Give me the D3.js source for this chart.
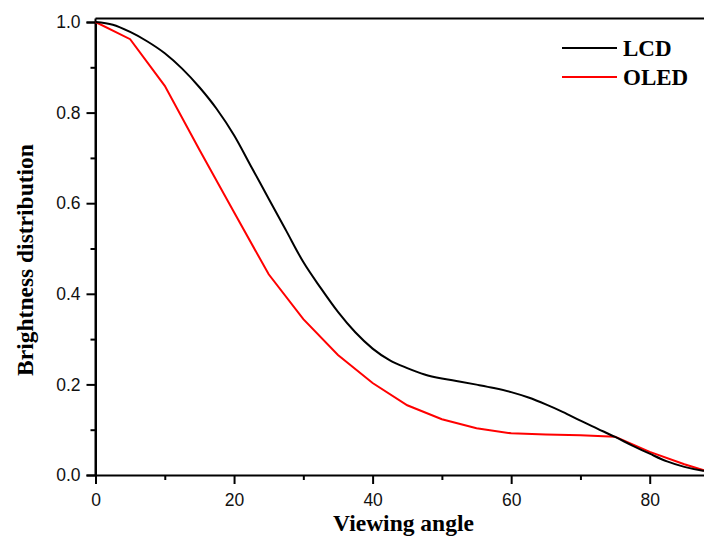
<!DOCTYPE html>
<html>
<head>
<meta charset="utf-8">
<script src="https://cdn.jsdelivr.net/npm/d3@7"></script>
<style>
  body { margin: 0; background: #fff; }
  svg { display: block; }
</style>
</head>
<body>
<svg id="chart" width="704" height="541"></svg>
<script>
// viewing angle in degrees
let lcdAngles = [0, 2.5, 5, 7.5, 10, 12.5, 15, 17.5, 20, 22.5, 25, 27.5, 30, 32.5, 35, 37.5, 40, 42.5, 45,
    47.5, 50, 52.5, 55, 57.5, 60, 62.5, 65, 67.5, 70, 72.5, 75, 77.5, 80, 82.5, 85, 87.5, 90];
let lcdValues = [1.000, 0.994, 0.978, 0.957, 0.931, 0.897, 0.856, 0.808, 0.750, 0.680, 0.610, 0.540, 0.470,
    0.413, 0.360, 0.315, 0.279, 0.253, 0.236, 0.222, 0.213, 0.2065, 0.1995, 0.192, 0.183, 0.171, 0.156,
    0.139, 0.120, 0.102, 0.084, 0.065, 0.047, 0.030, 0.018, 0.010, 0.006];

let oledAngles = [0, 5, 10, 15, 20, 25, 30, 35, 40, 45, 50, 55, 60, 65, 70, 75, 80, 85, 90];
let oledValues = [1.000, 0.962, 0.859, 0.718, 0.580, 0.443, 0.344, 0.265, 0.203, 0.154, 0.123, 0.103,
    0.092, 0.0895, 0.088, 0.0846, 0.051, 0.0236, 0.0];

let xTicks = [0, 20, 40, 60, 80];
let yTicks = [0.0, 0.2, 0.4, 0.6, 0.8, 1.0];
let seriesNames = ['LCD', 'OLED'];
let seriesColors = ['#000000', '#ff0000'];

window.addEventListener('DOMContentLoaded', (event) => {
    let svg = d3.select('#chart');

    let x = d3.scaleLinear().domain([0, 90]).range([95.5, 719]);
    let y = d3.scaleLinear().domain([0, 1]).range([475, 22]);
    let yTop = y(1.008);

    // top frame
    svg.append('line')
        .attr('x1', x(0)).attr('x2', x(90))
        .attr('y1', yTop).attr('y2', yTop)
        .attr('stroke', '#000').attr('stroke-width', 2);

    let xAxis = d3.axisBottom(x).tickValues(xTicks).tickSize(9).tickPadding(10).tickFormat(d3.format('d'));
    let xMinor = d3.axisBottom(x).tickValues([10, 30, 50, 70, 90]).tickSize(5).tickFormat('');
    let yAxis = d3.axisLeft(y).tickValues(yTicks).tickSize(9).tickPadding(6).tickFormat(d3.format('.1f'));
    let yMinor = d3.axisLeft(y).tickValues([0.1, 0.3, 0.5, 0.7, 0.9]).tickSize(5).tickFormat('');

    let styleAxis = g => {
        g.select('.domain').attr('stroke', '#000').attr('stroke-width', 2);
        g.selectAll('.tick line').attr('stroke', '#000').attr('stroke-width', 2);
        g.selectAll('text')
            .attr('fill', '#111')
            .style('font-family', '"Liberation Sans", Arial, sans-serif')
            .style('font-size', '17.5px');
    };

    svg.append('g').attr('transform', `translate(0,${y(0)})`).call(xMinor).call(styleAxis)
        .select('.domain').remove();
    svg.append('g').attr('transform', `translate(0,${y(0)})`).call(xAxis).call(styleAxis);
    svg.append('g').attr('transform', `translate(${x(0)},0)`).call(yMinor).call(styleAxis)
        .select('.domain').remove();
    svg.append('g').attr('transform', `translate(${x(0)},0)`).call(yAxis).call(styleAxis);

    // y axis line up to the top frame
    svg.append('line')
        .attr('x1', x(0)).attr('x2', x(0))
        .attr('y1', yTop).attr('y2', y(0))
        .attr('stroke', '#000').attr('stroke-width', 2);

    // curves
    let lcdLine = d3.line()
        .x((d, i) => x(lcdAngles[i]))
        .y(d => y(d))
        .curve(d3.curveMonotoneX);
    let oledLine = d3.line()
        .x((d, i) => x(oledAngles[i]))
        .y(d => y(d));

    svg.append('path')
        .attr('d', oledLine(oledValues))
        .attr('fill', 'none')
        .attr('stroke', seriesColors[1])
        .attr('stroke-width', 2);

    svg.append('path')
        .attr('d', lcdLine(lcdValues))
        .attr('fill', 'none')
        .attr('stroke', seriesColors[0])
        .attr('stroke-width', 2);

    // legend
    let legend = svg.append('g').attr('transform', 'translate(562,48)');
    seriesNames.forEach((name, i) => {
        let row = legend.append('g').attr('transform', `translate(0,${i * 29})`);
        row.append('line')
            .attr('x1', 0).attr('x2', 55)
            .attr('stroke', seriesColors[i]).attr('stroke-width', 2);
        row.append('text')
            .attr('x', 61).attr('y', 8)
            .text(name)
            .style('font-family', '"Liberation Serif", "Times New Roman", serif')
            .style('font-weight', 'bold')
            .style('font-size', '23px');
    });

    // axis titles
    svg.append('text')
        .attr('x', 403.5).attr('y', 531)
        .attr('text-anchor', 'middle')
        .text('Viewing angle')
        .style('font-family', '"Liberation Serif", "Times New Roman", serif')
        .style('font-weight', 'bold')
        .style('font-size', '23.5px');

    svg.append('text')
        .attr('transform', 'translate(33,260) rotate(-90)')
        .attr('text-anchor', 'middle')
        .text('Brightness distribution')
        .style('font-family', '"Liberation Serif", "Times New Roman", serif')
        .style('font-weight', 'bold')
        .style('font-size', '23.5px');
});
</script>
</body>
</html>
